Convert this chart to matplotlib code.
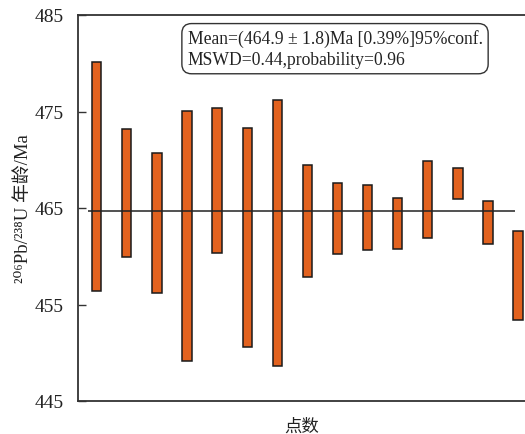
import matplotlib
matplotlib.use("Agg")
import matplotlib.pyplot as plt
import numpy as np

# Data (206Pb/238U ages, Ma)
spots = list(range(1, 16))
age_top = [480.1, 473.2, 470.7, 475.0, 475.4, 473.3, 476.2, 469.5, 467.6, 467.4, 466.0, 469.9, 469.1, 465.7, 462.6]
age_bottom = [456.4, 459.9, 456.2, 449.1, 460.3, 450.6, 448.6, 457.9, 460.2, 460.6, 460.7, 461.9, 465.9, 461.3, 453.4]
mean_age = 464.65
yticks = [445, 455, 465, 475, 485]
ylabel = "²⁰⁶Pb/²³⁸U 年龄/Ma"
xlabel = "点数"
box_text = "Mean=(464.9 ± 1.8)Ma [0.39%]95%conf.\nMSWD=0.44,probability=0.96"

serif = ["Liberation Serif", "DejaVu Serif", "Noto Sans CJK SC"]
cjk = ["Noto Sans CJK SC", "Liberation Serif"]

fig = plt.figure(figsize=(5.25, 4.35), dpi=100)
ax = fig.add_axes([78/525, 33/435, 447/525, 386/435])

x = np.array(spots)
top = np.array(age_top)
bot = np.array(age_bottom)
ax.bar(x, top - bot, bottom=bot, width=0.31, color="#E2621F",
       edgecolor="#1a1a1a", linewidth=1.1, zorder=2)
ax.hlines(mean_age, 0.71, 14.9, color="#222222", linewidth=1.1, zorder=3)

ax.set_xlim(0.38, 15.23)
ax.set_ylim(445, 485)
ax.set_yticks(yticks)
ax.set_yticklabels([str(v) for v in yticks], fontfamily=serif, fontsize=14, color="#222222")
ax.set_xticks([])
ax.tick_params(axis="y", direction="in", length=6, width=1.0, pad=10, color="#333333")

for s in ["left", "top", "bottom"]:
    ax.spines[s].set_color("#333333")
    ax.spines[s].set_linewidth(1.3)
ax.spines["right"].set_visible(False)

ax.set_ylabel(ylabel, fontfamily=serif, fontsize=13.5, color="#222222", labelpad=2)
ax.set_xlabel(xlabel, fontfamily=cjk, fontsize=12.5, color="#222222", labelpad=11)

ax.text(0.245, 0.963, box_text, transform=ax.transAxes, ha="left", va="top",
        fontfamily=serif, fontsize=12.7, color="#222222", linespacing=1.3,
        bbox=dict(boxstyle="round,pad=0.32,rounding_size=0.55", facecolor="white",
                  edgecolor="#333333", linewidth=1.0), zorder=5)

fig.savefig("out.png", dpi=100, facecolor="white")
